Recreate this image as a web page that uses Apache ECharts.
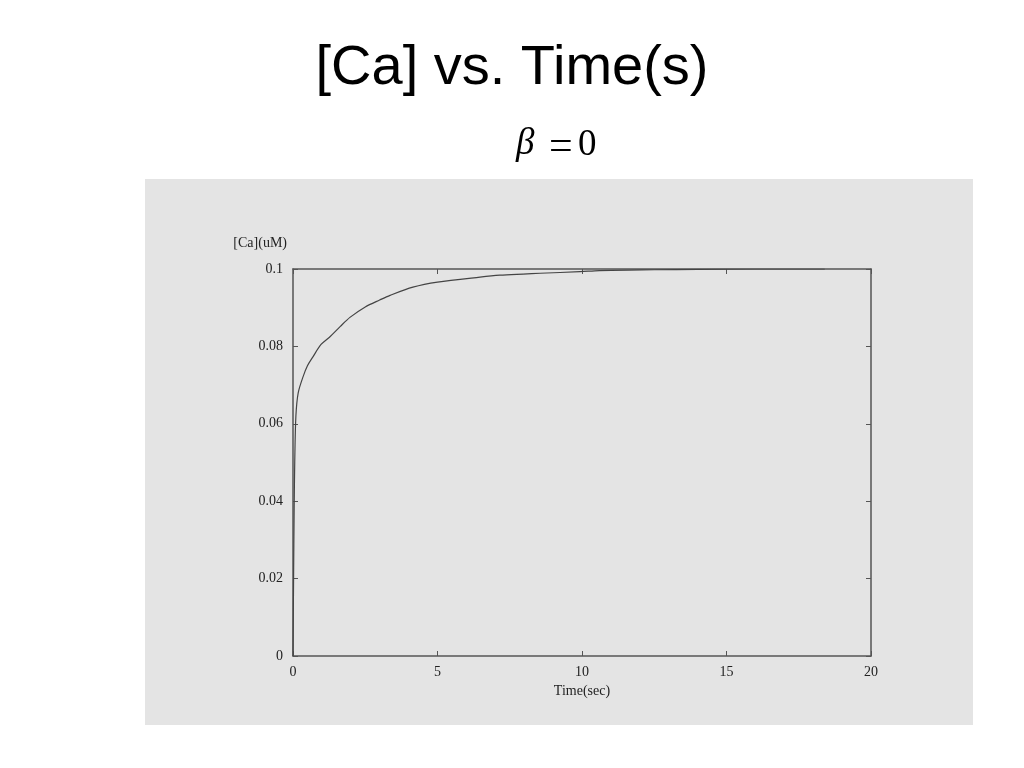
<!DOCTYPE html>
<html>
<head>
<meta charset="utf-8">
<script src="https://cdn.jsdelivr.net/npm/echarts@6/dist/echarts.min.js"></script>
<style>html,body{margin:0;padding:0;background:#fff;}#c{width:1024px;height:768px;}</style>
</head>
<body>
<div id="c"></div>
<script>
const title = "[Ca] vs. Time(s)";
const xName = "Time(sec)";
const yName = "[Ca](uM)";
const timeSec = [0, 0.02, 0.04, 0.06, 0.1, 0.18, 0.35, 0.5, 0.69, 0.97, 1.28, 1.63, 1.97, 2.5, 3.0, 3.36, 4.15, 5.0, 6.47, 7.16, 7.96, 8.55, 9.93, 10.6, 12.5, 14, 16, 18.4];
const caUM = [0, 0.02, 0.038, 0.05, 0.062, 0.068, 0.0722, 0.075, 0.0773, 0.0805, 0.0825, 0.0851, 0.0875, 0.0902, 0.092, 0.0932, 0.0953, 0.0966, 0.0979, 0.0984, 0.0987, 0.0989, 0.0993, 0.0996, 0.0998, 0.0999, 0.1, 0.1];

const chart = echarts.init(document.getElementById('c'));
const axisCol = '#555';
const serif = '"Liberation Serif", "DejaVu Serif", serif';
const frameAxis = {
  type: 'value',
  axisLine: { show: true, onZero: false, lineStyle: { color: axisCol, width: 1.5 } },
  axisTick: { show: true, inside: true, length: 5, lineStyle: { color: axisCol } },
  splitLine: { show: false }
};
chart.setOption({
  backgroundColor: '#ffffff',
  animation: false,
  graphic: [
    { type: 'rect', shape: { x: 145, y: 179, width: 828, height: 546 }, style: { fill: '#e4e4e4' }, z: -10 },
    { type: 'text', left: 'center', top: 41, style: { text: title, font: '56px "Liberation Sans", Arial, sans-serif', fill: '#000' } },
    { type: 'text', x: 516, y: 126, style: { text: 'β', font: 'italic 37px ' + serif, fill: '#000' } },
    { type: 'text', x: 549, y: 127, style: { text: '=', font: '42px ' + serif, fill: '#000' } },
    { type: 'text', x: 578, y: 127, style: { text: '0', font: '37px ' + serif, fill: '#000' } }
  ],
  grid: { left: 293, right: 153, top: 269, bottom: 112, show: false },
  xAxis: [Object.assign({}, frameAxis, {
    min: 0, max: 20, interval: 5, position: 'bottom',
    name: xName, nameLocation: 'middle', nameGap: 26,
    nameTextStyle: { fontFamily: serif, fontSize: 14, color: '#222' },
    axisLabel: { fontFamily: serif, fontSize: 14, color: '#222', margin: 9 }
  }), Object.assign({}, frameAxis, {
    min: 0, max: 20, interval: 5, position: 'top',
    axisLabel: { show: false }
  })],
  yAxis: [Object.assign({}, frameAxis, {
    min: 0, max: 0.1, interval: 0.02, position: 'left',
    name: yName, nameLocation: 'end', nameGap: 19,
    nameTextStyle: { fontFamily: serif, fontSize: 14, color: '#222', align: 'right', padding: [0, 6, 0, 0] },
    axisLabel: { fontFamily: serif, fontSize: 14, color: '#222', margin: 10 }
  }), Object.assign({}, frameAxis, {
    min: 0, max: 0.1, interval: 0.02, position: 'right',
    axisLabel: { show: false }
  })],
  series: [{
    type: 'line', xAxisIndex: 0, yAxisIndex: 0,
    data: timeSec.map((t, i) => [t, caUM[i]]),
    smooth: 0.3, showSymbol: false, symbol: 'none',
    lineStyle: { color: '#444', width: 1.2 }
  }]
});
</script>
</body>
</html>
